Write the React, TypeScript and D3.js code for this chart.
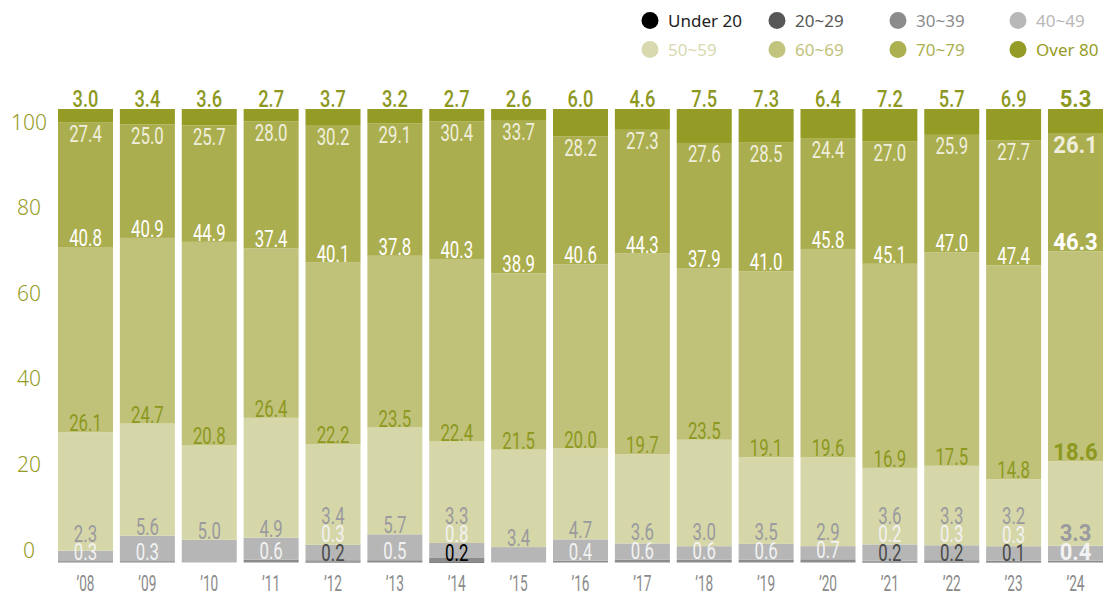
import React from "react";
import * as d3 from "d3";

const years = ["’08","’09","’10","’11","’12","’13","’14","’15","’16","’17","’18","’19","’20","’21","’22","’23","’24"];
const under20 = [0,0,0,0,0,0,0.2,0,0,0,0,0,0,0,0,0,0];
const age20s = [0,0,0,0,0.2,0,0,0,0,0,0,0,0,0.2,0.2,0.1,0];
const age30s = [0.3,0.3,0,0.6,0.3,0.5,0.8,0,0.4,0.6,0.6,0.6,0.7,0.2,0.3,0.3,0.4];
const age40s = [2.3,5.6,5.0,4.9,3.4,5.7,3.3,3.4,4.7,3.6,3.0,3.5,2.9,3.6,3.3,3.2,3.3];
const age50s = [26.1,24.7,20.8,26.4,22.2,23.5,22.4,21.5,20.0,19.7,23.5,19.1,19.6,16.9,17.5,14.8,18.6];
const age60s = [40.8,40.9,44.9,37.4,40.1,37.8,40.3,38.9,40.6,44.3,37.9,41.0,45.8,45.1,47.0,47.4,46.3];
const age70s = [27.4,25.0,25.7,28.0,30.2,29.1,30.4,33.7,28.2,27.3,27.6,28.5,24.4,27.0,25.9,27.7,26.1];
const over80 = [3.0,3.4,3.6,2.7,3.7,3.2,2.7,2.6,6.0,4.6,7.5,7.3,6.4,7.2,5.7,6.9,5.3];

const seriesNames = ["Under 20","20~29","30~39","40~49","50~59","60~69","70~79","Over 80"];
const seriesValues = [under20, age20s, age30s, age40s, age50s, age60s, age70s, over80];
const yTicks = [0,20,40,60,80,100];

const fillColors = ["#000000","#555555","#8b8b8b","#b6b6b6","#d6d7a8","#c0c27a","#abae4f","#959c25"];
const legendColors = ["#000000","#575757","#8c8c8c","#b8b8b8","#d9d9b0","#c2c37c","#adb04f","#959c25"];
const labelColors = ["#000000","#4a4a4a","#f2f2f2","#9a9aa0","#8d981f","#ffffff","#efeedc","#8d981f"];

const W = 1108, H = 595;

export default function App() {
  const keys = seriesNames;
  const rows = years.map((y, i) => {
    const r: any = { year: y };
    keys.forEach((k, j) => { r[k] = seriesValues[j][i]; });
    return r;
  });
  const stacked = d3.stack<any>().keys(keys).offset(d3.stackOffsetExpand)(rows);

  const x = d3.scaleBand<string>().domain(years).range([58, 1103]).paddingInner(0.111).paddingOuter(0);
  const y = d3.scaleLinear().domain([0, 1]).range([562.5, 109]);
  const yAxis = d3.scaleLinear().domain([0, 100]).range([550, 122]);
  const bw = x.bandwidth();

  const labels: any[] = [];
  years.forEach((yr, i) => {
    const cx = (x(yr) as number) + bw / 2;
    const bold = i === years.length - 1;
    let prev = Infinity;
    for (let j = 0; j < 4; j++) {
      const v = seriesValues[j][i];
      if (!v) continue;
      const top = y(stacked[j][i][1]);
      let b = Math.min(top - 1, prev - 18.5);
      if (prev === Infinity) b = Math.min(top - 1, 561.5);
      prev = b;
      labels.push({ cx, b, v, j, bold });
    }
    for (let j = 4; j < 6; j++) {
      const v = seriesValues[j][i];
      const top = y(stacked[j][i][1]);
      labels.push({ cx, b: top - 1, v, j, bold });
    }
    {
      const top = y(stacked[6][i][1]);
      labels.push({ cx, b: top + 19.5, v: seriesValues[6][i], j: 6, bold });
    }
    labels.push({ cx, b: y(1) - 2.5, v: seriesValues[7][i], j: 7, bold, top: true });
  });

  const legendCols = [650, 777, 898, 1018];
  const legendRows = [20.5, 49.5];

  return (
    <svg width={W} height={H} style={{ position: "absolute", left: 0, top: 0, background: "#fff" }}>
      {seriesNames.map((n, k) => {
        const cx = legendCols[k % 4];
        const cy = legendRows[Math.floor(k / 4)];
        return (
          <g key={n}>
            <circle cx={cx} cy={cy} r={8.5} fill={legendColors[k]} />
            <text x={cx + 18} y={cy + 6} fontFamily="'Noto Sans', sans-serif" fontSize={17}
              fill={k === 0 ? "#222" : legendColors[k]}>{n}</text>
          </g>
        );
      })}
      {yTicks.map(t => (
        <text key={t} x={29} y={yAxis(t) + 7.5} textAnchor="middle" fontFamily="'Noto Sans', sans-serif"
          fontWeight={300} fontSize={21} fill="#959c25">{t}</text>
      ))}
      {stacked.map((s, j) => (
        <g key={s.key} fill={fillColors[j]}>
          {s.map((d, i) => {
            const h = y(d[0]) - y(d[1]);
            if (!(seriesValues[j][i] > 0)) return null;
            return <rect key={i} x={x(years[i])} y={y(d[1])} width={bw} height={Math.max(h, 0)} />;
          })}
        </g>
      ))}
      {labels.map((l, k) => (
        <g key={k} transform={`translate(${l.cx},${l.b}) scale(${l.bold ? 0.92 : (l.top ? 0.76 : 0.7)},1)`}>
          <text textAnchor="middle" fontFamily="Roboto, sans-serif" fontSize={24}
            fontWeight={l.bold ? 700 : (l.top ? 500 : 400)} fill={labelColors[l.j]}>{l.v.toFixed(1)}</text>
        </g>
      ))}
      {years.map(yr => (
        <g key={yr} transform={`translate(${(x(yr) as number) + bw / 2},591) scale(0.62,1)`}>
          <text textAnchor="middle" fontFamily="Roboto, sans-serif" fontSize={22} fill="#8a8a8a">{yr}</text>
        </g>
      ))}
    </svg>
  );
}
